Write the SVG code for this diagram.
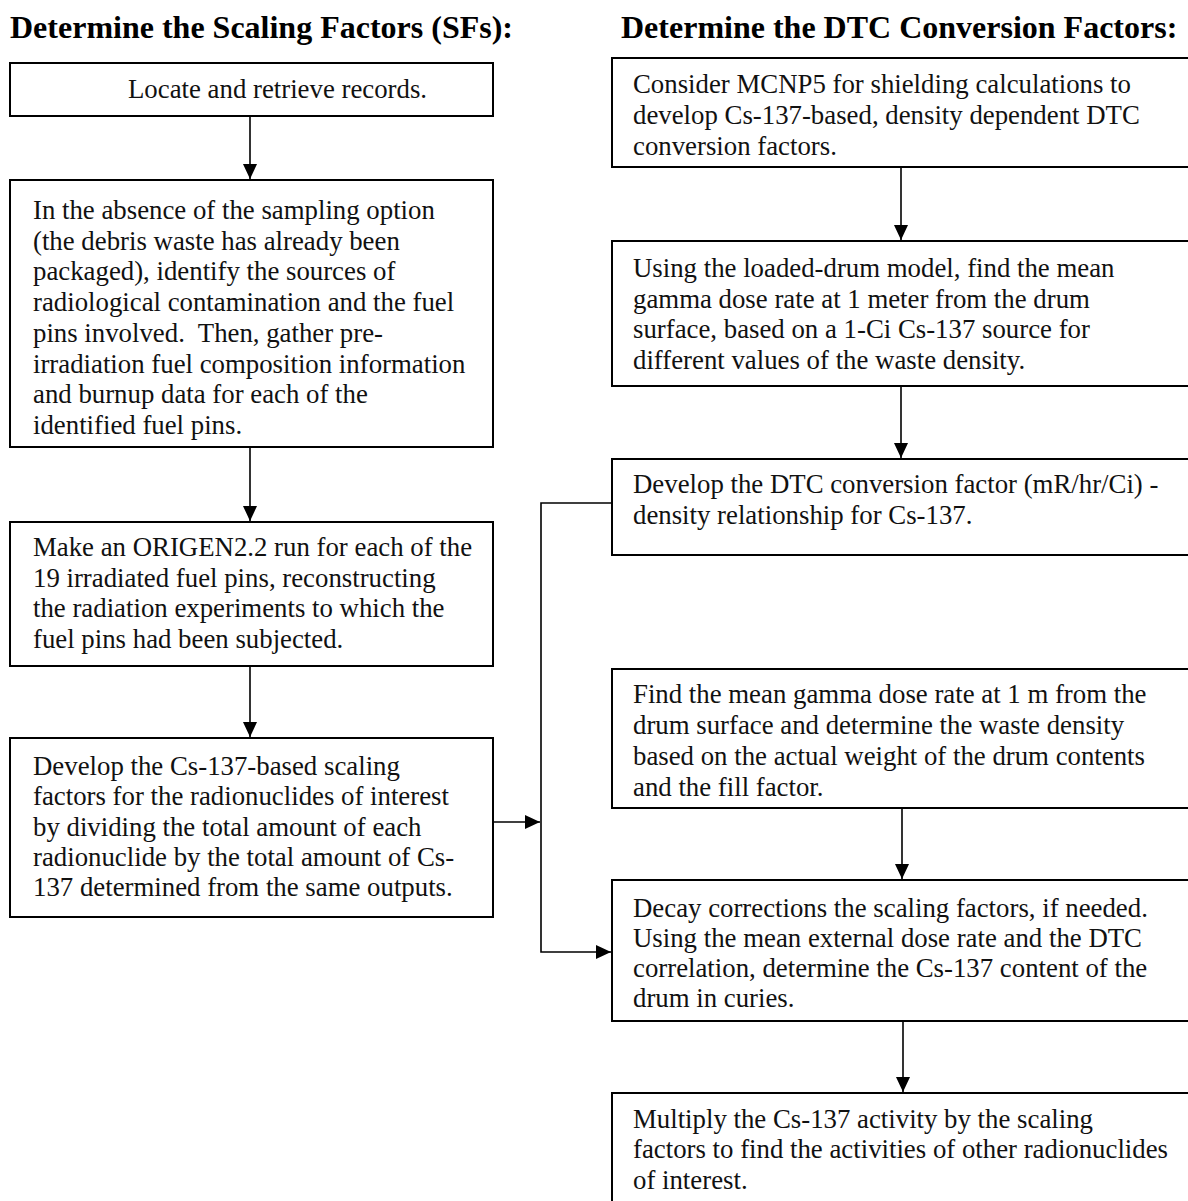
<svg xmlns="http://www.w3.org/2000/svg" width="1188" height="1201" viewBox="0 0 1188 1201">
<defs>
<style>
.box{fill:#fff;stroke:#000;stroke-width:2}
.t{font-family:"Liberation Serif","Times New Roman",serif;font-size:26.8px;fill:#111}
.h{font-family:"Liberation Serif","Times New Roman",serif;font-size:32px;font-weight:bold;fill:#000}
.c{fill:none;stroke:#000;stroke-width:1.6}
</style>
<marker id="arr" markerUnits="userSpaceOnUse" markerWidth="16" markerHeight="16" viewBox="0 0 16 16" refX="15" refY="8" orient="auto">
<path d="M0,1 L15,8 L0,15 Z" fill="#000"/>
</marker>
</defs>
<rect width="1188" height="1201" fill="#fff"/>
<text class="h" x="10" y="38">Determine the Scaling Factors (SFs):</text>
<text class="h" x="621" y="38">Determine the DTC Conversion Factors:</text>

<g id="connectors">
<line class="c" x1="250" y1="116" x2="250" y2="179" marker-end="url(#arr)"/>
<line class="c" x1="250" y1="447" x2="250" y2="521" marker-end="url(#arr)"/>
<line class="c" x1="250" y1="666" x2="250" y2="737" marker-end="url(#arr)"/>
<line class="c" x1="901" y1="167" x2="901" y2="240" marker-end="url(#arr)"/>
<line class="c" x1="901" y1="386" x2="901" y2="458" marker-end="url(#arr)"/>
<line class="c" x1="902" y1="808" x2="902" y2="879" marker-end="url(#arr)"/>
<line class="c" x1="903" y1="1021" x2="903" y2="1092" marker-end="url(#arr)"/>
<line class="c" x1="493" y1="822" x2="540" y2="822" marker-end="url(#arr)"/>
<path class="c" d="M612,503 H541 V952 H611" marker-end="url(#arr)"/>
</g>

<g id="sf1">
<rect class="box" x="10" y="63" width="483" height="53"/>
<text class="t" x="128" y="98">Locate and retrieve records.</text>
</g>
<g id="sf2">
<rect class="box" x="10" y="180" width="483" height="267"/>
<text class="t" x="33" xml:space="preserve"><tspan x="33" y="219">In the absence of the sampling option</tspan><tspan x="33" y="249.7">(the debris waste has already been</tspan><tspan x="33" y="280.4">packaged), identify the sources of</tspan><tspan x="33" y="311.1">radiological contamination and the fuel</tspan><tspan x="33" y="341.8">pins involved.  Then, gather pre-</tspan><tspan x="33" y="372.5">irradiation fuel composition information</tspan><tspan x="33" y="403.2">and burnup data for each of the</tspan><tspan x="33" y="433.9">identified fuel pins.</tspan></text>
</g>
<g id="sf3">
<rect class="box" x="10" y="522" width="483" height="144"/>
<text class="t"><tspan x="33" y="556">Make an ORIGEN2.2 run for each of the</tspan><tspan x="33" y="586.7">19 irradiated fuel pins, reconstructing</tspan><tspan x="33" y="617.4">the radiation experiments to which the</tspan><tspan x="33" y="648.1">fuel pins had been subjected.</tspan></text>
</g>
<g id="sf4">
<rect class="box" x="10" y="738" width="483" height="179"/>
<text class="t"><tspan x="33" y="775">Develop the Cs-137-based scaling</tspan><tspan x="33" y="805.3">factors for the radionuclides of interest</tspan><tspan x="33" y="835.6">by dividing the total amount of each</tspan><tspan x="33" y="865.9">radionuclide by the total amount of Cs-</tspan><tspan x="33" y="896.2">137 determined from the same outputs.</tspan></text>
</g>

<g id="dtc1">
<rect class="box" x="612" y="58" width="600" height="109"/>
<text class="t"><tspan x="633" y="93">Consider MCNP5 for shielding calculations to</tspan><tspan x="633" y="124">develop Cs-137-based, density dependent DTC</tspan><tspan x="633" y="155">conversion factors.</tspan></text>
</g>
<g id="dtc2">
<rect class="box" x="612" y="241" width="600" height="145"/>
<text class="t"><tspan x="633" y="277">Using the loaded-drum model, find the mean</tspan><tspan x="633" y="307.5">gamma dose rate at 1 meter from the drum</tspan><tspan x="633" y="338">surface, based on a 1-Ci Cs-137 source for</tspan><tspan x="633" y="368.5">different values of the waste density.</tspan></text>
</g>
<g id="dtc3">
<rect class="box" x="612" y="459" width="600" height="96"/>
<text class="t"><tspan x="633" y="493">Develop the DTC conversion factor (mR/hr/Ci) -</tspan><tspan x="633" y="524">density relationship for Cs-137.</tspan></text>
</g>
<g id="dtc4">
<rect class="box" x="612" y="669" width="600" height="139"/>
<text class="t"><tspan x="633" y="703">Find the mean gamma dose rate at 1 m from the</tspan><tspan x="633" y="734">drum surface and determine the waste density</tspan><tspan x="633" y="765">based on the actual weight of the drum contents</tspan><tspan x="633" y="796">and the fill factor.</tspan></text>
</g>
<g id="dtc5">
<rect class="box" x="612" y="880" width="600" height="141"/>
<text class="t"><tspan x="633" y="917">Decay corrections the scaling factors, if needed.</tspan><tspan x="633" y="947">Using the mean external dose rate and the DTC</tspan><tspan x="633" y="977">correlation, determine the Cs-137 content of the</tspan><tspan x="633" y="1007">drum in curies.</tspan></text>
</g>
<g id="dtc6">
<rect class="box" x="612" y="1093" width="600" height="130"/>
<text class="t"><tspan x="633" y="1128">Multiply the Cs-137 activity by the scaling</tspan><tspan x="633" y="1158">factors to find the activities of other radionuclides</tspan><tspan x="633" y="1189">of interest.</tspan></text>
</g>
</svg>
